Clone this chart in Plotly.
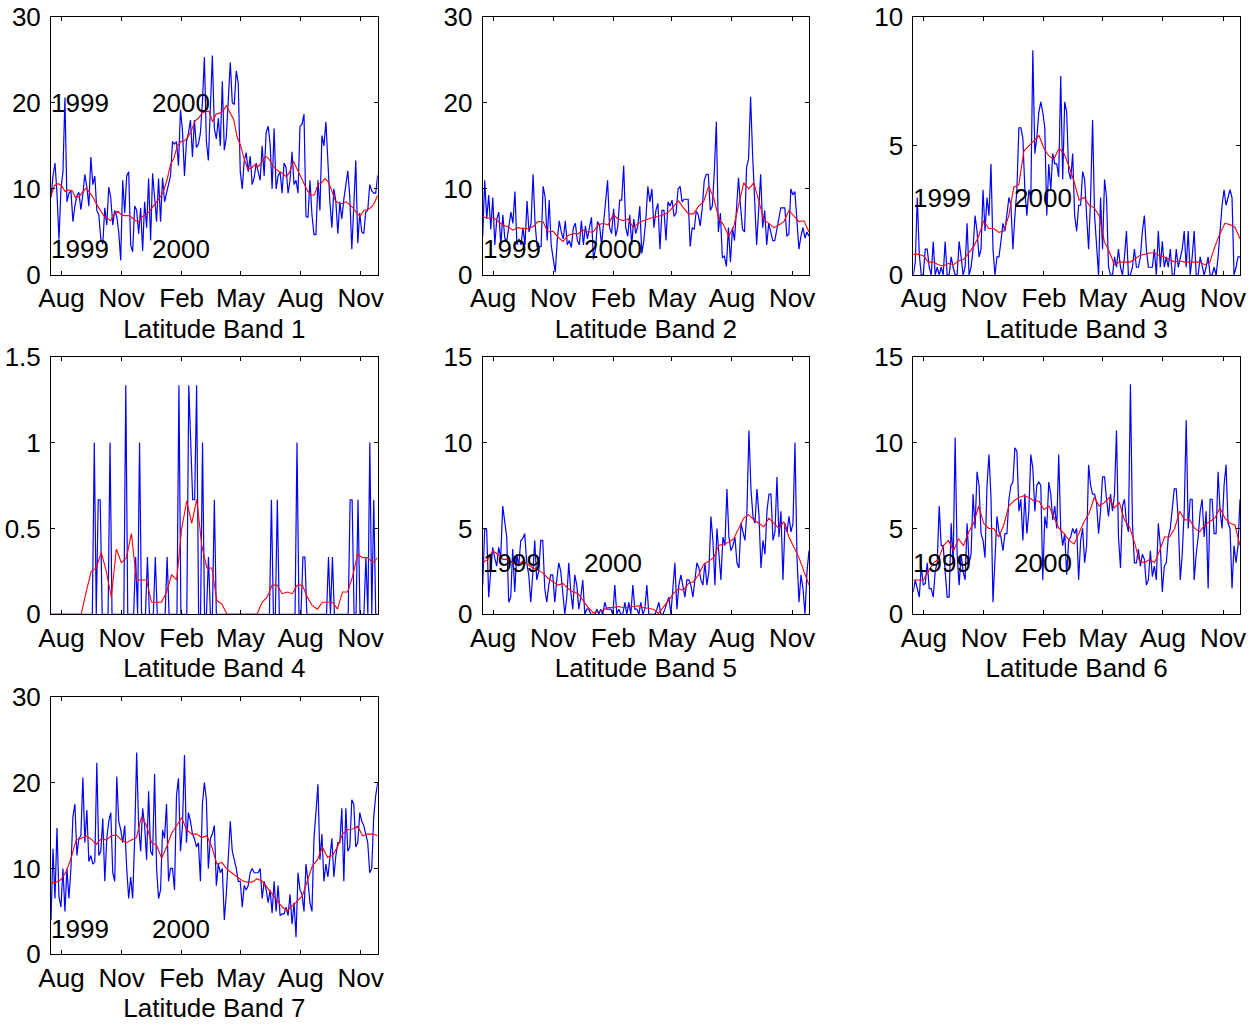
import pandas as pd
import plotly.graph_objects as go

# Sampling span shared by every band (first and last sample dates)
START, END = "1999-07-16", "2000-11-27"

MONTH_TICKS = ["1999-08-01", "1999-11-01", "2000-02-01",
               "2000-05-01", "2000-08-01", "2000-11-01"]
MONTH_LABELS = ["Aug", "Nov", "Feb", "May", "Aug", "Nov"]

YEAR_LABELS = ["1999", "2000"]
YEAR_LABEL_DATES = ["1999-07-16", "1999-12-16"]
YEAR_LABEL_SHIFT = [-1, 0]

# ---- Latitude Band 1 ----
band1_raw = [
    9.0, 11.5, 13.0, 9.5, 4.1, 10.0, 12.0, 20.6, 8.5, 9.5,
    9.8, 6.2, 8.0, 9.2, 9.6, 7.6, 9.4, 11.7, 10.2, 8.0,
    13.7, 10.5, 11.5, 7.5, 7.0, 4.2, 3.6, 7.8, 5.8, 10.2,
    9.0, 5.8, 7.5, 6.8, 5.0, 1.7, 11.0, 7.2, 11.5, 12.0,
    3.5, 2.7, 8.0, 7.5, 4.8, 7.8, 2.8, 8.5, 5.5, 11.2,
    4.0, 11.8, 9.0, 6.2, 11.2, 6.2, 11.3, 8.5, 9.5, 10.5,
    11.5, 15.5, 15.2, 15.5, 12.7, 19.2, 16.8, 11.5, 15.5, 16.5,
    18.0, 13.7, 18.0, 14.8, 15.2, 16.5, 20.0, 25.3, 15.5, 13.3,
    19.0, 25.5, 17.0, 15.8, 18.2, 15.0, 22.5, 14.5, 16.0, 20.5,
    24.7, 20.0, 19.8, 23.7, 22.3, 12.0, 10.0, 13.3, 14.2, 12.0,
    13.8, 10.5, 11.3, 13.0, 12.0, 11.0, 15.0, 11.5, 16.5, 17.3,
    15.2, 10.0, 17.0, 10.0, 11.5, 12.0, 9.5, 13.0, 12.5, 9.5,
    11.0, 14.3, 10.5, 11.0, 9.5, 17.3, 17.5, 18.7, 6.8, 6.7,
    11.0, 7.0, 4.7, 4.7, 11.0, 7.5, 16.2, 15.0, 17.8, 12.5,
    8.5, 5.5, 10.0, 8.5, 4.8, 8.5, 6.5, 8.8, 10.5, 12.1,
    9.0, 3.0, 8.0, 13.3, 3.7, 7.2, 5.0, 4.8, 7.3, 7.5,
    10.5, 9.8, 9.5, 9.5, 11.6,
]
band1_smooth = [
    9.2, 10.4, 10.6, 10.4, 9.7, 9.9, 9.8, 9.0, 9.1, 9.6,
    10.1, 9.6, 9.0, 8.2, 7.6, 6.9, 6.6, 6.3, 7.1, 7.4,
    7.0, 6.9, 6.9, 6.7, 6.3, 6.2, 6.8, 7.0, 7.4, 8.0,
    8.5, 9.0, 9.7, 11.0, 12.8, 13.6, 15.0, 15.5, 15.6, 16.0,
    16.8, 17.9, 18.2, 18.8, 19.0, 19.0, 17.8, 18.7, 18.8, 19.1,
    19.7, 18.8, 18.1, 16.0, 15.0, 13.5, 12.3, 12.4, 12.8, 12.6,
    13.1, 13.8, 13.5, 12.8, 12.3, 12.0, 11.8, 11.4, 12.0, 13.2,
    12.3, 11.4, 10.6, 9.8, 9.3, 9.3, 10.5, 10.7, 11.2, 10.8,
    9.7, 8.6, 8.3, 8.3, 8.5, 8.1, 7.8, 7.2, 6.8, 7.5,
    7.6, 7.8, 8.3, 9.3,
]

# ---- Latitude Band 2 ----
band2_raw = [
    4.5, 11.0, 6.5, 9.3, 5.3, 9.0, 3.5, 6.5, 7.3, 3.5,
    7.0, 4.2, 4.0, 5.5, 7.3, 6.0, 9.7, 3.5, 4.2, 3.5,
    5.5, 3.5, 8.6, 5.0, 6.0, 11.7, 6.0, 3.3, 3.3, 3.3,
    10.3, 9.0, 4.0, 8.7, 3.5, 1.8, 0.3, 4.0, 6.3, 5.0,
    4.2, 6.3, 3.5, 4.0, 3.2, 5.5, 6.0, 4.0, 3.5, 6.3,
    3.5, 5.7, 4.2, 5.5, 6.7, 1.8, 3.0, 6.2, 5.8, 3.5,
    6.0, 8.0, 11.0, 5.5, 4.8, 7.7, 4.5, 5.5, 8.7, 8.7,
    12.7, 5.5, 4.5, 7.0, 3.5, 6.5, 4.8, 5.7, 8.0, 2.5,
    4.0, 6.5, 10.3, 8.5, 10.0, 5.5, 7.5, 8.3, 3.0, 7.5,
    7.5, 4.0, 8.5, 8.0, 8.7, 6.8, 7.2, 10.0, 10.3, 8.5,
    8.8, 8.8, 8.8, 3.3, 5.5, 5.3, 7.4, 7.0, 5.7, 7.8,
    11.0, 11.7, 11.7, 7.5, 8.0, 12.0, 17.8, 5.0, 7.2, 2.0,
    2.2, 1.0, 5.5, 1.5, 5.5, 4.0, 7.5, 11.3, 8.0, 5.3,
    5.0, 12.5, 13.5, 20.7, 14.0, 8.5, 3.5, 7.5, 11.7, 5.5,
    7.5, 3.5, 6.0, 5.0, 4.0, 4.0, 5.5, 6.5, 7.8, 7.8,
    7.8, 4.5, 4.8, 10.0, 9.3, 9.7, 6.0, 3.0, 4.5, 5.5,
    4.3, 5.0, 4.5,
]
band2_smooth = [
    6.8, 6.6, 6.7, 6.2, 5.8, 5.6, 5.2, 5.5, 5.4, 5.4,
    5.6, 6.2, 6.2, 5.0, 5.1, 4.4, 3.9, 4.6, 4.8, 4.8,
    5.2, 5.0, 5.0, 5.8, 6.0, 5.8, 7.0, 6.5, 6.3, 6.5,
    5.5, 6.0, 6.3, 6.5, 6.7, 6.8, 7.0, 7.3, 8.0, 8.6,
    7.8, 7.1, 7.1, 8.0, 8.5, 10.3, 9.0, 6.6, 5.8, 4.5,
    5.6, 8.0, 10.7, 10.0, 10.7, 8.6, 6.4, 6.0, 5.5, 5.8,
    6.2, 7.5, 6.8, 6.2, 6.3, 5.0,
]

# ---- Latitude Band 3 ----
band3_raw = [
    0.0, 0.5, 3.0, 0.8, 0.0, 0.0, 1.0, 1.0, 0.3, 0.0,
    1.3, 0.0, 0.3, 0.0, 0.3, 0.0, 1.3, 0.0, 0.0, 0.7,
    0.3, 0.0, 0.0, 1.3, 0.7, 0.0, 0.3, 2.0, 0.0, 0.3,
    1.0, 2.3, 1.7, 0.7, 1.0, 3.3, 1.7, 3.0, 2.3, 4.3,
    1.0, 0.0, 0.7, 0.7, 1.3, 2.0, 1.7, 2.3, 3.0, 2.7,
    1.0, 2.3, 3.3, 5.7, 5.7, 5.3, 3.3, 2.3, 3.3, 3.0,
    8.7, 4.7, 5.3, 6.3, 6.7, 6.3, 5.7, 2.3, 4.3, 3.3,
    4.7, 4.3, 4.3, 3.8, 7.7, 3.7, 6.7, 6.3, 4.0, 3.7,
    4.7, 2.3, 1.7, 2.7, 2.7, 4.0, 3.7, 2.3, 1.0, 3.0,
    6.0, 2.3, 1.3, 0.0, 3.0, 1.0, 3.7, 3.0, 0.3, 0.0,
    0.0, 0.7, 0.3, 1.0, 0.3, 0.0, 0.7, 1.7, 0.0, 0.0,
    0.3, 1.0, 0.3, 0.3, 0.7, 1.7, 2.3, 1.0, 0.3, 0.3,
    0.3, 1.0, 0.0, 1.7, 0.3, 1.3, 0.3, 0.7, 0.3, 1.0,
    0.0, 0.0, 1.0, 0.3, 0.7, 1.0, 1.7, 0.3, 1.7, 0.0,
    0.7, 1.7, 0.0, 0.0, 0.7, 0.3, 0.0, 0.3, 0.7, 0.0,
    0.0, 0.3, 0.0, 0.7, 1.7, 2.7, 3.3, 2.7, 3.0, 3.3,
    3.0, 0.0, 0.3, 0.7, 0.7,
]
band3_smooth = [
    0.8, 0.8, 0.75, 0.5, 0.5, 0.4, 0.35, 0.45, 0.4, 0.55,
    0.6, 0.85, 1.1, 1.5, 2.1, 1.8, 1.8, 1.65, 1.7, 2.3,
    3.4, 3.5, 4.8, 5.0, 5.2, 5.4, 4.9, 4.6, 4.5, 4.9,
    4.7, 4.2, 3.6, 2.9, 3.0, 2.7, 2.6, 2.3, 1.3, 0.9,
    0.4, 0.5, 0.5, 0.5, 0.6, 0.75, 0.8, 0.85, 0.85, 0.75,
    0.7, 0.6, 0.5, 0.55, 0.5, 0.5, 0.5, 0.5, 0.4, 0.5,
    1.1, 1.6, 2.0, 1.95, 1.85, 1.4,
]

# ---- Latitude Band 4 ----
band4_raw = [
    0, 0, 0, 0, 0, 0, 0, 0, 0, 0,
    0, 0, 0, 0, 0, 0, 0, 0, 0, 0,
    0, 0, 1, 0, 0.667, 0.667, 0, 0, 0, 0,
    1, 0, 0, 0, 0, 0, 0, 0, 1.333, 0,
    0, 0, 0, 0.333, 0, 1, 0, 0, 0, 0.333,
    0, 0, 0, 0.333, 0, 0, 0, 0, 0, 0.333,
    0, 0, 0, 0, 0, 1.333, 0, 0, 0, 0,
    1.333, 1, 0.667, 0.667, 1.333, 0, 0, 1, 0, 0,
    0.333, 0, 0, 0.667, 0, 0, 0, 0, 0, 0,
    0, 0, 0, 0, 0, 0, 0, 0, 0, 0,
    0, 0, 0, 0, 0, 0, 0, 0, 0, 0,
    0, 0, 0.667, 0, 0, 0.667, 0, 0, 0, 0,
    0, 0, 0, 0, 0, 1, 0, 0, 0.333, 0.333,
    0, 0, 0, 0, 0, 0, 0, 0, 0, 0,
    0, 0.333, 0, 0.333, 0, 0, 0, 0, 0, 0,
    0, 0, 0.667, 0.667, 0, 0, 0.667, 0, 0, 0,
    0.333, 0, 1, 0, 0.667, 0, 0,
]
band4_smooth = [
    0, 0, 0, 0, 0, 0, 0, 0.13, 0.25, 0.27,
    0.36, 0.25, 0.1, 0.38, 0.3, 0.33, 0.47, 0.2, 0.2, 0.2,
    0.07, 0.07, 0.07, 0.13, 0.23, 0.2, 0.5, 0.66, 0.53, 0.67,
    0.4, 0.27, 0.27, 0.08, 0.06, 0, 0, 0, 0, 0,
    0, 0, 0.07, 0.1, 0.17, 0.17, 0.12, 0.13, 0.12, 0.17,
    0.17, 0.1, 0.05, 0.03, 0.07, 0.07, 0.07, 0.03, 0.13, 0.13,
    0.22, 0.35, 0.33, 0.33, 0.3, 0.33,
]

# ---- Latitude Band 5 ----
band5_raw = [
    1.7, 5.0, 4.9, 1.0, 2.5, 3.9, 3.3, 2.8, 3.9, 3.3,
    6.3, 5.5, 4.5, 0.7, 1.0, 3.8, 1.3, 3.5, 2.8, 4.3,
    4.4, 4.7, 3.0, 2.3, 0.7, 2.3, 4.3, 2.0, 2.5, 4.3,
    4.3, 1.5, 0.7, 1.7, 2.3, 2.3, 0.7, 2.0, 3.0, 2.5,
    1.3, 0.0, 1.0, 3.0, 1.3, 0.3, 2.3, 1.7, 0.3, 1.0,
    2.0, 0.0, 0.3, 0.3, 0.0, 0.0, 0.0, 0.3, 0.0, 0.3,
    0.0, 0.7, 0.3, 0.3, 0.3, 0.0, 1.7, 0.0, 0.3, 0.0,
    0.0, 0.7, 0.0, 0.7, 0.0, 1.7, 0.3, 0.3, 0.0, 0.7,
    0.0, 0.3, 1.7, 0.0, 0.0, 0.0, 0.0, 0.3, 0.7, 0.0,
    0.0, 0.3, 0.7, 1.0, 0.0, 1.7, 3.0, 0.3, 1.7, 2.3,
    1.7, 1.0, 2.0, 2.0, 1.7, 1.0, 2.0, 3.0, 2.7, 2.0,
    1.7, 3.0, 1.7, 2.5, 5.7, 4.3, 1.7, 5.0, 3.5, 2.0,
    4.5, 4.0, 7.3, 4.5, 3.7, 4.0, 4.5, 3.0, 2.7, 5.3,
    4.8, 4.3, 6.0, 10.7, 7.3, 5.7, 5.3, 7.3, 5.8, 2.7,
    4.3, 3.5, 6.0, 7.0, 7.0, 4.3, 4.8, 8.0, 4.5, 6.0,
    2.0, 5.3, 4.8, 5.7, 4.8, 5.3, 10.0, 3.3, 0.7, 2.3,
    1.5, 0.0, 2.5, 3.7,
]
band5_smooth = [
    3.0, 3.2, 3.7, 3.5, 3.2, 3.2, 3.0, 2.9, 3.1, 2.9,
    2.7, 2.6, 2.4, 2.1, 1.9, 1.7, 1.8, 1.5, 1.3, 1.2,
    0.8, 0.4, 0.1, 0.15, 0.25, 0.4, 0.4, 0.45, 0.4, 0.4,
    0.45, 0.5, 0.4, 0.35, 0.3, 0.05, 0.4, 0.8, 1.2, 1.5,
    1.4, 1.8, 1.9, 2.3, 2.9, 3.1, 3.3, 4.0, 4.1, 4.2,
    4.4, 5.0, 5.6, 5.8, 5.5, 5.3, 5.1, 5.6, 5.3, 5.0,
    5.4, 4.5, 3.9, 3.3, 2.5, 1.7,
]

# ---- Latitude Band 6 ----
band6_raw = [
    1.3, 2.0, 1.5, 1.0, 2.8, 1.7, 1.8, 3.0, 1.5, 1.5,
    1.0, 2.5, 3.0, 6.3, 4.0, 4.0, 2.5, 1.0, 1.0, 5.3,
    3.0, 10.3, 3.5, 1.7, 3.5, 2.5, 2.0, 5.3, 3.0, 3.5,
    7.0, 5.0, 8.3, 7.5, 4.7, 4.3, 3.3, 7.5, 9.3, 6.8,
    0.7, 3.7, 5.7, 4.8, 4.5, 3.7, 4.7, 4.7, 6.7, 7.5,
    7.7, 9.7, 9.5, 6.0, 6.7, 4.3, 7.0, 4.7, 6.0, 9.3,
    8.5, 6.0, 7.5, 7.7, 7.5, 2.0, 5.7, 5.0, 7.7, 7.0,
    5.5, 6.3, 5.0, 9.3, 5.0, 4.0, 4.7, 2.3, 4.3, 4.5,
    5.0, 4.7, 5.0, 2.0, 4.3, 5.0, 3.0, 4.0, 8.7, 7.5,
    7.0, 7.0, 6.5, 4.7, 6.0, 8.0, 8.0, 6.7, 5.7, 7.0,
    6.0, 7.0, 10.7, 4.5, 2.7, 6.3, 6.7, 5.3, 4.8, 13.4,
    5.3, 3.0, 3.0, 3.8, 2.8, 3.5, 3.2, 1.7, 2.0, 3.7,
    2.2, 2.8, 2.0, 5.3, 4.0, 1.3, 2.8, 3.0, 4.5, 5.0,
    6.0, 7.3, 7.3, 5.5, 2.0, 3.5, 6.0, 11.3, 5.0, 6.7,
    6.7, 2.0, 3.5, 4.5, 6.0, 6.7, 4.5, 6.0, 1.5, 6.7,
    6.7, 4.7, 4.7, 8.3, 6.0, 5.0, 7.5, 8.7, 5.3, 5.0,
    1.5, 4.0, 3.0, 4.0, 6.7,
]
band6_smooth = [
    2.0, 2.0, 2.0, 2.5, 3.0, 3.2, 4.0, 4.3, 3.7, 4.4,
    4.0, 4.8, 5.3, 6.3, 5.3, 5.0, 5.0, 4.5, 5.2, 6.3,
    6.6, 6.8, 6.9, 6.8, 6.6, 6.6, 6.1, 6.3, 5.6, 5.0,
    4.7, 4.3, 4.1, 4.7, 5.4, 5.9, 6.8, 6.3, 6.5, 6.8,
    6.2, 6.5, 5.5, 5.1, 4.2, 3.1, 3.0, 3.2, 3.0, 3.7,
    4.5, 4.5, 5.0, 6.0, 5.5, 5.5, 5.0, 4.8, 5.2, 5.4,
    5.6, 6.2, 5.6, 5.3, 5.2, 4.0,
]

# ---- Latitude Band 7 ----
band7_raw = [
    4.0, 12.3, 6.5, 14.7, 6.7, 5.5, 10.0, 5.0, 10.0, 6.5,
    10.0, 16.0, 17.5, 11.5, 13.5, 13.8, 20.6, 13.0, 16.8, 10.8,
    11.5, 10.5, 10.8, 22.3, 11.5, 12.0, 15.8, 8.5, 13.5, 15.5,
    16.5, 9.5, 8.5, 20.7, 15.5, 14.5, 13.0, 15.0, 10.0, 6.5,
    9.0, 6.5, 13.5, 23.5, 15.0, 12.0, 17.0, 15.0, 11.0, 19.0,
    12.0, 11.5, 21.0, 10.0, 6.5, 7.5, 14.5, 13.5, 17.5, 8.5,
    10.0, 10.0, 7.5, 18.5, 20.5, 12.0, 15.0, 23.2, 13.0, 16.5,
    15.5, 14.0, 13.5, 12.5, 13.0, 8.5, 17.5, 20.0, 18.0, 10.0,
    13.5, 14.0, 15.0, 8.0, 10.5, 9.5, 10.0, 4.0, 7.0, 11.5,
    15.5, 12.0, 11.0, 10.0, 8.5, 8.5, 5.5, 8.0, 7.5, 8.0,
    9.5, 10.0, 9.5, 9.5, 9.5, 10.0, 6.5, 8.5, 7.5, 6.0,
    7.5, 4.8, 8.5, 5.0, 8.0, 4.5, 4.7, 4.7, 5.5, 4.5,
    7.0, 3.5, 6.0, 2.0, 9.5, 7.5, 7.0, 5.0, 10.5, 8.5,
    6.0, 5.0, 13.5, 16.5, 19.8, 11.0, 14.0, 8.5, 10.5, 9.0,
    11.0, 13.5, 9.0, 11.5, 13.0, 13.0, 17.0, 8.5, 17.0, 12.0,
    12.5, 18.0, 17.5, 12.5, 13.0, 16.5, 15.5, 15.0, 14.0, 13.0,
    9.5, 10.0, 16.0, 18.5, 20.0,
]
band7_smooth = [
    8.3, 8.4, 8.7, 9.6, 11.2, 13.3, 13.5, 13.8, 13.4, 12.8,
    13.5, 13.3, 13.8, 13.9, 13.3, 13.0, 13.3, 13.6, 16.0, 15.0,
    13.0, 12.7, 11.2, 12.5, 14.1, 15.0, 15.9, 14.5, 14.0, 14.0,
    13.6, 13.8, 12.5, 10.5, 10.7, 9.9, 9.5, 9.1, 8.6, 8.4,
    8.4, 8.8, 8.5, 7.8, 7.0, 6.3, 5.5, 5.1, 5.6, 6.2,
    6.8, 8.5, 10.3, 11.0, 12.5, 11.3, 11.5, 12.5, 14.0, 14.5,
    14.6, 14.9, 13.8, 14.0, 14.0, 13.8,
]

BANDS = [
    ("Latitude Band 1", band1_raw, band1_smooth, [0, 30], [0, 10, 20, 30], [3, 20]),
    ("Latitude Band 2", band2_raw, band2_smooth, [0, 30], [0, 10, 20, 30], [3]),
    ("Latitude Band 3", band3_raw, band3_smooth, [0, 10], [0, 5, 10], [3]),
    ("Latitude Band 4", band4_raw, band4_smooth, [0, 1.5], [0, 0.5, 1, 1.5], []),
    ("Latitude Band 5", band5_raw, band5_smooth, [0, 15], [0, 5, 10, 15], [3]),
    ("Latitude Band 6", band6_raw, band6_smooth, [0, 15], [0, 5, 10, 15], [3]),
    ("Latitude Band 7", band7_raw, band7_smooth, [0, 30], [0, 10, 20, 30], [3]),
]

W, H = 1260, 1026
# subplot frames in pixels: left/right per column, top/bottom per row
COLS = [(51.0, 377.7), (482.7, 809.0), (913.3, 1240.0)]
ROWS = [(16.7, 275.0), (356.7, 614.3), (696.7, 954.3)]

FONT = "Liberation Sans, Arial, Helvetica, sans-serif"
FS = 26

fig = go.Figure()
layout = dict(
    width=W, height=H, margin=dict(l=0, r=0, t=0, b=0, autoexpand=False),
    paper_bgcolor="white", plot_bgcolor="white",
    showlegend=False, font=dict(family=FONT, size=FS, color="black"),
)
annotations = []

for n, (title, raw, smooth, yrange, yticks, label_levels) in enumerate(BANDS):
    k = "" if n == 0 else str(n + 1)
    col, row = n % 3, n // 3
    x0, x1 = COLS[col]
    top, bot = ROWS[row]

    fig.add_trace(go.Scatter(
        x=pd.date_range(START, END, periods=len(raw)), y=raw, mode="lines",
        line=dict(color="#0000ff", width=1.2), xaxis="x" + k, yaxis="y" + k,
        hoverinfo="skip"))
    fig.add_trace(go.Scatter(
        x=pd.date_range(START, END, periods=len(smooth)), y=smooth, mode="lines",
        line=dict(color="#ff0000", width=1.1), xaxis="x" + k, yaxis="y" + k,
        hoverinfo="skip"))

    common = dict(showline=True, linecolor="black", linewidth=1, mirror="allticks",
                  ticks="inside", ticklen=4, tickwidth=1, tickcolor="black",
                  showgrid=False, zeroline=False, automargin=False,
                  tickfont=dict(family=FONT, size=FS, color="black"))
    layout["xaxis" + k] = dict(
        common, type="date", domain=[x0 / W, x1 / W], anchor="y" + k,
        range=[START, END], tickmode="array", tickvals=MONTH_TICKS, ticktext=MONTH_LABELS,
        ticklabelstandoff=0,
        title=dict(text=title, font=dict(family=FONT, size=FS, color="black"), standoff=7))
    layout["yaxis" + k] = dict(
        common, domain=[1 - bot / H, 1 - top / H], anchor="x" + k,
        range=yrange, tickmode="array", tickvals=yticks,
        ticktext=[f"{v:g}" for v in yticks], ticklabelstandoff=4)

    for level in label_levels:
        for txt, d, dx in zip(YEAR_LABELS, YEAR_LABEL_DATES, YEAR_LABEL_SHIFT):
            annotations.append(dict(
                x=d, y=level, xref="x" + k, yref="y" + k, text=txt, showarrow=False,
                xanchor="left", yanchor="middle", borderpad=0, xshift=dx,
                font=dict(family=FONT, size=FS, color="black")))

layout["annotations"] = annotations
fig.update_layout(**layout)
fig.write_html("out.html")
